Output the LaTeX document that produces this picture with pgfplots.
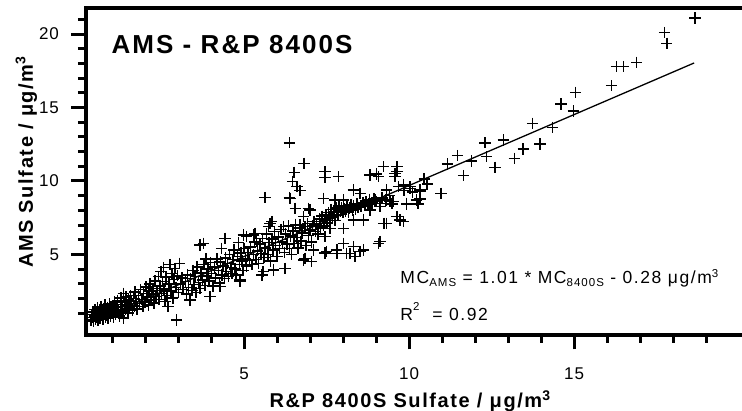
\documentclass[border=0pt]{standalone}
\usepackage{pgfplots}
\pgfplotsset{compat=1.18}
\usepackage{pgfplotstable}
\usepackage{fontspec}
\setmainfont{Liberation Sans}
\newfontfamily\tickfont[LetterSpace=6]{Liberation Sans}
\newfontfamily\labfont[LetterSpace=8]{Liberation Sans}
\newfontfamily\annfont[LetterSpace=9]{Liberation Sans}

\pgfplotstableread{
x y
0.36 0.55
0.38 0.92
0.40 0.70
0.42 1.10
0.44 0.48
0.46 0.82
0.48 1.25
0.50 0.62
0.52 1.00
0.54 0.75
0.56 1.35
0.58 0.52
0.60 0.90
0.62 1.15
0.64 0.68
0.66 1.45
0.68 0.85
0.70 1.05
0.72 0.58
0.74 1.28
0.76 0.95
0.78 1.55
0.80 0.72
0.82 1.18
0.84 0.88
0.86 1.40
0.88 0.65
0.90 1.08
0.92 1.62
0.95 0.80
0.97 1.30
0.99 0.98
1.02 1.50
1.04 0.75
1.06 1.20
1.08 1.78
1.10 0.95
1.12 1.40
1.15 1.05
1.17 1.88
1.20 1.25
1.22 0.82
1.25 1.60
1.27 2.05
1.30 1.15
1.32 1.45
1.34 0.66
1.34 2.36
1.37 1.75
1.40 1.30
1.42 2.10
1.45 1.55
1.48 1.00
1.50 1.90
1.53 1.35
1.56 2.20
1.58 1.65
1.62 1.20
1.65 2.00
1.68 1.50
1.70 2.45
1.73 1.80
1.76 1.30
1.80 2.20
1.83 1.65
1.86 2.60
1.90 1.95
1.93 1.45
1.96 2.35
2.00 1.75
2.03 2.80
2.06 2.10
2.10 1.55
2.12 2.50
2.15 3.00
2.18 1.90
2.20 2.30
2.24 2.70
2.27 1.70
2.30 3.20
2.33 2.15
2.36 2.55
2.40 3.50
2.42 1.95
2.45 2.85
2.48 3.85
2.50 2.35
2.53 3.15
2.56 4.10
2.58 2.65
2.61 1.80
2.64 3.45
2.66 2.20
2.70 1.45
2.72 3.00
2.75 4.30
2.78 2.50
2.81 3.70
2.84 2.05
2.87 3.30
2.90 4.05
2.93 2.75
2.96 0.54
2.98 3.55
3.02 2.40
3.05 4.40
3.08 3.00
3.12 3.40
3.15 2.60
3.22 3.15
3.25 2.30
3.28 3.60
3.32 2.75
3.36 1.90
3.38 3.35
3.42 2.55
3.45 3.90
3.48 2.95
3.52 3.50
3.55 2.40
3.58 4.15
3.62 3.10
3.66 2.70
3.67 5.65
3.70 3.75
3.74 3.25
3.77 5.76
3.78 4.30
3.82 2.90
3.85 4.70
3.87 3.55
3.90 4.00
3.94 3.20
3.97 2.13
3.98 4.45
4.02 3.70
4.06 2.85
4.10 4.15
4.14 3.40
4.18 4.70
4.22 3.90
4.25 3.06
4.27 2.81
4.28 4.50
4.32 5.42
4.33 3.60
4.36 4.20
4.40 3.35
4.42 6.10
4.43 4.75
4.46 3.85
4.50 4.40
4.53 3.50
4.56 5.00
4.60 4.10
4.63 3.70
4.66 4.65
4.70 5.30
4.73 4.00
4.76 3.60
4.80 4.85
4.83 5.80
4.86 4.30
4.88 3.15
4.88 3.27
4.90 5.10
4.94 4.55
4.97 3.90
4.98 6.33
5.00 5.40
5.04 4.70
5.08 6.21
5.08 4.20
5.12 5.15
5.16 4.60
5.20 5.50
5.24 4.30
5.28 6.33
5.28 5.00
5.32 5.85
5.33 6.44
5.36 4.65
5.38 5.87
5.40 5.25
5.44 4.40
5.48 5.70
5.52 5.05
5.54 3.61
5.56 6.10
5.58 3.83
5.60 4.80
5.64 5.45
5.64 8.87
5.68 6.40
5.72 5.00
5.74 6.89
5.76 5.80
5.79 7.12
5.80 4.55
5.84 7.23
5.85 6.05
5.88 5.30
5.89 3.95
5.92 6.55
5.96 5.60
6.00 4.85
6.04 6.20
6.08 5.40
6.12 6.70
6.16 5.85
6.19 6.89
6.22 5.15
6.24 4.06
6.26 6.40
6.30 5.70
6.34 6.95
6.37 8.87
6.37 12.60
6.38 5.40
6.40 6.25
6.39 8.82
6.44 5.00
6.47 9.97
6.48 6.60
6.52 10.59
6.52 5.75
6.55 8.14
6.56 7.05
6.60 9.61
6.60 6.15
6.64 5.45
6.68 6.80
6.70 9.34
6.70 7.00
6.72 5.90
6.76 6.45
6.80 7.57
6.80 4.63
6.82 11.20
6.84 6.90
6.85 4.74
6.88 5.60
6.92 7.10
6.95 8.14
6.96 6.30
7.00 6.67
7.00 8.03
7.04 5.85
7.05 4.51
7.08 6.95
7.10 5.31
7.12 7.25
7.16 6.55
7.20 7.05
7.24 6.40
7.28 7.40
7.30 7.12
7.32 6.80
7.36 7.60
7.40 8.82
7.40 6.95
7.44 7.35
7.45 10.63
7.45 10.25
7.45 6.21
7.45 5.10
7.48 7.70
7.50 5.19
7.52 7.15
7.56 7.85
7.60 7.45
7.61 6.78
7.64 8.05
7.68 7.55
7.72 7.90
7.76 8.71
7.76 7.30
7.80 8.15
7.81 5.31
7.81 5.08
7.84 7.70
7.86 10.29
7.88 8.30
7.92 7.95
7.96 8.15
8.00 7.85
8.01 8.71
8.01 6.78
8.01 5.76
8.04 8.10
8.08 7.95
8.10 8.05
8.11 5.08
8.12 8.25
8.16 7.90
8.20 8.15
8.21 5.08
8.24 8.40
8.28 8.00
8.31 9.39
8.31 7.35
8.31 5.53
8.32 8.30
8.36 4.85
8.38 8.10
8.42 8.45
8.46 8.20
8.52 9.16
8.52 5.19
8.55 8.30
8.60 8.55
8.62 7.35
8.62 5.31
8.66 8.35
8.70 8.60
8.75 8.40
8.80 8.75
8.82 8.03
8.82 10.40
8.88 8.50
8.94 8.80
8.97 8.71
9.02 8.59
9.02 10.48
9.07 10.29
9.07 5.76
9.12 8.25
9.12 8.48
9.12 5.87
9.18 8.85
9.22 10.97
9.24 7.12
9.30 8.70
9.32 9.39
9.32 7.12
9.40 9.00
9.42 8.59
9.48 8.45
9.52 8.60
9.58 10.29
9.58 10.52
9.63 10.97
9.63 10.63
9.63 7.57
9.68 9.61
9.73 7.35
9.83 7.23
9.83 9.73
9.85 9.35
9.93 8.48
9.93 8.44
10.03 9.50
10.03 9.61
10.10 9.25
10.23 8.71
10.27 8.45
10.33 9.39
10.33 9.27
10.33 8.76
10.46 10.14
10.55 9.80
10.97 9.16
11.17 11.16
11.47 11.72
11.65 10.36
11.90 11.36
12.30 12.60
12.35 11.65
12.60 10.93
12.86 12.79
13.19 11.54
13.46 12.18
13.74 13.92
13.97 12.52
14.35 13.65
14.60 15.24
14.98 14.76
15.05 16.03
16.14 16.48
16.29 17.78
16.50 17.78
16.90 18.07
17.74 20.10
17.81 19.37
18.67 21.10
}\sulfate

\begin{document}
\begin{tikzpicture}
\path[use as bounding box] (0,0) rectangle (742pt,411pt);
\begin{axis}[
  at={(86pt,76pt)}, anchor=south west,
  scale only axis, width=656pt, height=327pt,
  xmin=0.21, xmax=20.09, ymin=-0.48, ymax=21.77,
  axis lines*=left,
  axis line style={line width=4pt, line cap=rect},
  tick align=outside,
  xtick={5,10,15}, ytick={5,10,15,20},
  minor xtick={1,2,3,4,6,7,8,9,11,12,13,14,16,17,18,19},
  minor ytick={1,2,3,4,6,7,8,9,11,12,13,14,16,17,18,19,21},
  major tick length=14.5pt, minor tick length=8pt,
  every tick/.style={black, line width=3pt},
  tick label style={font=\tickfont\fontsize{17}{20}\selectfont},
  /pgf/number format/assume math mode=true,
  xticklabel style={anchor=north, yshift=-15pt},
  yticklabel style={anchor=east, xshift=-9pt},
  xlabel={R\&P 8400S Sulfate / μg/m\textsuperscript{3}},
  ylabel={AMS Sulfate / μg/m\textsuperscript{3}},
  label style={font=\labfont\bfseries\fontsize{20}{24}\selectfont},
  xlabel style={at={(axis description cs:0.494,-0.222)}, anchor=base},
  ylabel style={at={(axis description cs:-0.081,0.529)}, anchor=base},
  clip=false,
]
\addplot[only marks, mark=+, mark size=5.7pt, mark options={line width=1.5pt, black}] table {\sulfate};
\addplot[black, line width=1.3pt] coordinates {(0.4,0.42) (18.64,18.03)};
\draw[line width=4pt, line cap=rect] (rel axis cs:0,1) -- (rel axis cs:1,1);
\node[anchor=base west, font=\labfont\bfseries\fontsize{26}{30}\selectfont] at (axis description cs:0.0335,0.862) {AMS - R\&P 8400S};
\node[anchor=base west, font=\annfont\fontsize{17.5}{20}\selectfont] at (axis description cs:0.474,0.159)
  {MC\raisebox{-0.4ex}{\fontsize{11.5}{12}\selectfont AMS} = 1.01 * MC\raisebox{-0.4ex}{\fontsize{11.5}{12}\selectfont 8400S} - 0.28 μg/m\raisebox{0.55ex}{\fontsize{11.5}{12}\selectfont 3}};
\node[anchor=base west, font=\annfont\fontsize{17.5}{20}\selectfont] at (axis description cs:0.474,0.044)
  {R\raisebox{1.1ex}{\fontsize{11.5}{12}\selectfont 2}\ \ = 0.92};
\end{axis}
\end{tikzpicture}
\end{document}
